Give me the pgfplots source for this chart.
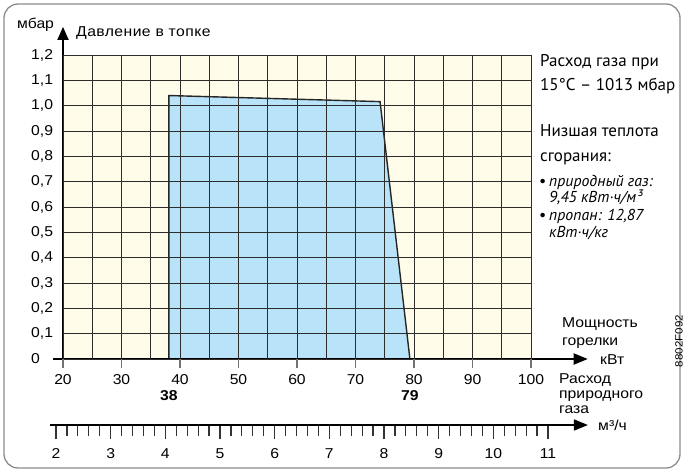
\documentclass[border=0pt]{standalone}
\usepackage{pgfplots}
\pgfplotsset{compat=1.18}
\usetikzlibrary{arrows.meta}
\usepackage{fontspec}
\setmainfont{Liberation Sans}[FakeStretch=1.1]
\newfontfamily\spaced{Liberation Sans}[FakeStretch=1.1, LetterSpace=3]
\newfontfamily\rfont{PT Sans}
\definecolor{bgy}{RGB}{255,252,234}
\definecolor{fillb}{RGB}{185,227,248}
\definecolor{gridc}{RGB}{45,45,45}
\begin{document}
\begin{tikzpicture}[font=\fontsize{14.3}{16}\selectfont]
\useasboundingbox (0,0) rectangle (684pt,472pt);
\draw[black!45, line width=1.3pt, rounded corners=14pt] (4pt,4pt) rectangle (680pt,468pt);
\begin{axis}[
  at={(63pt,113pt)}, anchor=south west, scale only axis,
  width=468pt, height=304pt,
  xmin=20, xmax=100, ymin=0, ymax=1.2,
  xtick={20,30,40,50,60,70,80,90,100},
  xticklabels={20,30,40,50,60,70,80,90,100},
  minor x tick num=1,
  ytick={0,0.1,0.2,0.3,0.4,0.5,0.6,0.7,0.8,0.9,1.0,1.1,1.2},
  yticklabels={0,{0,1},{0,2},{0,3},{0,4},{0,5},{0,6},{0,7},{0,8},{0,9},{1,0},{1,1},{1,2}},
  xtick pos=bottom, ytick pos=left,
  grid=both,
  major grid style={draw=gridc, line width=0.9pt},
  minor grid style={draw=gridc, line width=0.9pt},
  axis line style={draw=none},
  axis background/.style={fill=bgy},
  axis on top,
  tick align=outside, major tick length=9pt, minor tick length=0pt,
  every major y tick/.append style={draw=none},
  every major x tick/.append style={draw=black!55, line width=1.3pt},
  xticklabel style={anchor=base, inner sep=0pt, yshift=-16pt},
  yticklabel style={anchor=west, inner sep=0pt, xshift=-23pt},
  clip=false,
]
\addplot[fill=fillb, draw=black!85, line width=1.4pt] coordinates {(38.1,0) (38.1,1.04) (74.2,1.016) (79.3,0)} -- cycle;
\draw[line width=1.8pt, -{Triangle[length=14pt,width=11pt]}] (axis cs:18.3,0) -- (axis cs:109.7,0);
\draw[line width=1.8pt, -{Triangle[length=13pt,width=11pt]}] (axis cs:20,0) -- (axis cs:20,1.311);
\node[font=\bfseries\fontsize{14.3}{16}\selectfont, anchor=base] at (axis cs:38.1,0) [yshift=-41pt] {38};
\node[font=\bfseries\fontsize{14.3}{16}\selectfont, anchor=base] at (axis cs:79.3,0) [yshift=-41pt] {79};
\end{axis}
\begin{axis}[
  at={(56pt,47pt)}, anchor=south west, scale only axis,
  width=492pt, height=10pt,
  xmin=2, xmax=11, ymin=0, ymax=1,
  axis line style={draw=none},
  ytick=\empty,
  xtick={2,3,4,5,6,7,8,9,10,11},
  xticklabels={2,3,4,5,6,7,8,9,10,11},
  minor x tick num=4,
  xtick pos=bottom,
  tick align=outside, major tick length=14pt, minor tick length=11pt,
  every tick/.append style={draw=black!80, line width=1.2pt},
  xticklabel style={anchor=base, inner sep=0pt, yshift=-19pt},
  clip=false,
]
\draw[line width=1.6pt, -{Triangle[length=14pt,width=11pt]}] (axis cs:1.89,0) -- (axis cs:11.73,0);
\end{axis}
% left labels
\node[anchor=base west, inner sep=0pt] at (17pt,443pt) {мбар};
\node[anchor=base west, inner sep=0pt, font=\spaced\fontsize{14.3}{16}\selectfont] at (76pt,435pt) {Давление в топке};
% right notes
\begin{scope}[every node/.style={anchor=base west, inner sep=0pt, font=\rfont\fontsize{17}{19}\selectfont}]
\node at (540pt,405pt) {Расход газа при};
\node at (540pt,381pt) {15°C – 1013 мбар};
\node at (540pt,335pt) {Низшая теплота};
\node at (540pt,311pt) {сгорания:};
\end{scope}
\begin{scope}[every node/.style={anchor=base west, inner sep=0pt, font=\rfont\itshape\fontsize{15.8}{17}\selectfont}]
\node[font=\rfont\fontsize{16}{17}\selectfont] at (539pt,286pt) {•};
\node at (549pt,286pt) {природный газ:};
\node at (549pt,270pt) {9,45 кВт·ч/м³};
\node[font=\rfont\fontsize{16}{17}\selectfont] at (539pt,252pt) {•};
\node at (549pt,252pt) {пропан: 12,87};
\node at (549pt,235pt) {кВт·ч/кг};
\end{scope}
% bottom right labels
\begin{scope}[every node/.style={anchor=base west, inner sep=0pt}]
\node at (562pt,145pt) {Мощность};
\node at (562pt,127pt) {горелки};
\node at (600pt,108pt) {кВт};
\node at (559pt,89pt) {Расход};
\node at (559pt,74pt) {природного};
\node at (559pt,59pt) {газа};
\node at (598pt,42pt) {м³/ч};
\end{scope}
\node[rotate=90, font=\fontsize{10.5}{12}\selectfont] at (679pt,131pt) {8802F092};
\end{tikzpicture}
\end{document}
